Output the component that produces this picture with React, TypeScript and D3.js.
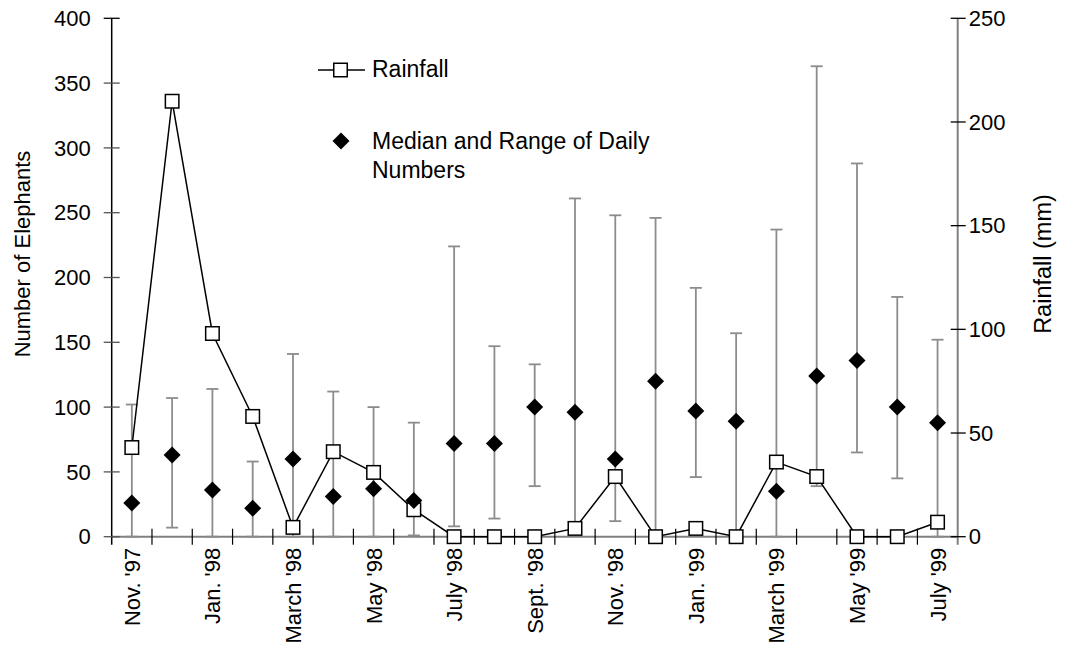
import React from "react";
import * as d3 from "d3";

const months = [
  "Nov. '97", "Dec. '97", "Jan. '98", "Feb. '98", "March '98", "April '98", "May '98",
  "June '98", "July '98", "Aug. '98", "Sept. '98", "Oct. '98", "Nov. '98", "Dec. '98",
  "Jan. '99", "Feb. '99", "March '99", "April '99", "May '99", "June '99", "July '99",
];
const rainfall = [43, 210, 98, 58, 4.5, 41, 31, 13, 0, 0, 0, 4, 29, 0, 4, 0, 36, 29, 0, 0, 7];
const median = [26, 63, 36, 22, 60, 31, 37, 28, 72, 72, 100, 96, 60, 120, 97, 89, 35, 124, 136, 100, 88];
const rangeMax = [102, 107, 114, 58, 141, 112, 100, 88, 224, 147, 133, 261, 248, 246, 192, 157, 237, 363, 288, 185, 152];
const rangeMin = [0, 7, 0, 0, 0, 0, 0, 1, 8, 14, 39, 3, 12, 0, 46, 0, 0, 39, 65, 45, 0];
const leftTicks = [0, 50, 100, 150, 200, 250, 300, 350, 400];
const rightTicks = [0, 50, 100, 150, 200, 250];

const W = 1065;
const H = 664;
const left = 111.7;
const right = 957.7;
const top = 18.3;
const bottom = 536.7;
const FONT = "'Liberation Sans', Arial, sans-serif";

export default function App() {
  const x = d3.scaleBand<number>().domain(d3.range(months.length)).range([left, right]).padding(0);
  const yL = d3.scaleLinear().domain([0, 400]).range([bottom, top]);
  const yR = d3.scaleLinear().domain([0, 250]).range([bottom, top]);
  const cx = (i: number) => (x(i) as number) + x.bandwidth() / 2;

  const line = d3
    .line<number>()
    .x((_, i) => cx(i))
    .y((d) => yR(d));

  const dh = 8.5;
  const diamond = `M0,${-dh}L${dh},0L0,${dh}L${-dh},0Z`;
  const sq = 13.5;

  return (
    <svg width={W} height={H} style={{ position: "absolute", left: 0, top: 0, background: "#fff" }} fontFamily={FONT}>
      {/* x axis line */}
      <line x1={left} x2={right} y1={bottom} y2={bottom} stroke="#808080" strokeWidth={2} />
      {/* x ticks at band boundaries */}
      {d3.range(1, months.length).map((i) => (
        <line key={"xt" + i} x1={x(i) as number} x2={x(i) as number} y1={bottom - 8} y2={bottom + 8} stroke="#000" strokeWidth={1.2} />
      ))}
      {/* x labels */}
      {months.map((m, i) =>
        i % 2 === 0 ? (
          <text
            key={"xl" + i}
            transform={`translate(${cx(i) + 8},${bottom + 11}) rotate(-90)`}
            textAnchor="end"
            fontSize={22}
            fill="#000"
          >
            {m}
          </text>
        ) : null
      )}
      {/* left axis */}
      <line x1={left} x2={left} y1={top} y2={bottom + 8} stroke="#000" strokeWidth={1.5} />
      {leftTicks.map((t) => (
        <g key={"lt" + t}>
          <line x1={left - 8} x2={left + 8} y1={yL(t)} y2={yL(t)} stroke={t === 400 ? "#000" : "#555"} strokeWidth={1.3} />
          <text x={left - 21} y={yL(t)} dy="0.35em" textAnchor="end" fontSize={22} fill="#000">
            {t}
          </text>
        </g>
      ))}
      {/* right axis */}
      <line x1={right} x2={right} y1={top} y2={bottom + 8} stroke="#808080" strokeWidth={2} />
      {rightTicks.map((t) => (
        <g key={"rt" + t}>
          <line x1={right - 7} x2={right + 8} y1={yR(t)} y2={yR(t)} stroke="#000" strokeWidth={1.3} />
          <text x={right + 11} y={yR(t)} dy="0.35em" textAnchor="start" fontSize={22} fill="#000">
            {t}
          </text>
        </g>
      ))}
      {/* axis titles */}
      <text transform={`translate(30,254) rotate(-90)`} textAnchor="middle" fontSize={22} fill="#000">
        Number of Elephants
      </text>
      <text transform={`translate(1051,264) rotate(-90)`} textAnchor="middle" fontSize={23.5} fill="#000">
        Rainfall (mm)
      </text>

      {/* error bars */}
      {months.map((_, i) => (
        <g key={"eb" + i} stroke="#8c8c8c" strokeWidth={1.8}>
          <line x1={cx(i)} x2={cx(i)} y1={yL(rangeMin[i])} y2={yL(rangeMax[i])} />
          <line x1={cx(i) - 6} x2={cx(i) + 6} y1={yL(rangeMax[i])} y2={yL(rangeMax[i])} />
          <line x1={cx(i) - 6} x2={cx(i) + 6} y1={yL(rangeMin[i])} y2={yL(rangeMin[i])} />
        </g>
      ))}

      {/* rainfall line */}
      <path d={line(rainfall) as string} fill="none" stroke="#000" strokeWidth={1.5} />
      {rainfall.map((r, i) => (
        <rect key={"sq" + i} x={cx(i) - sq / 2} y={yR(r) - sq / 2} width={sq} height={sq} fill="#fff" stroke="#000" strokeWidth={1.5} />
      ))}

      {/* medians */}
      {median.map((m, i) => (
        <path key={"md" + i} d={diamond} transform={`translate(${cx(i)},${yL(m)})`} fill="#000" />
      ))}

      {/* legend */}
      <line x1={318} x2={365} y1={70} y2={70} stroke="#000" strokeWidth={1.5} />
      <rect x={340.5 - sq / 2} y={70 - sq / 2} width={sq} height={sq} fill="#fff" stroke="#000" strokeWidth={1.5} />
      <text x={372} y={77} fontSize={23} fill="#000">Rainfall</text>
      <path d={diamond} transform="translate(341,141)" fill="#000" />
      <text x={372} y={149} fontSize={23} fill="#000">Median and Range of Daily</text>
      <text x={372} y={178} fontSize={23} fill="#000">Numbers</text>
    </svg>
  );
}
